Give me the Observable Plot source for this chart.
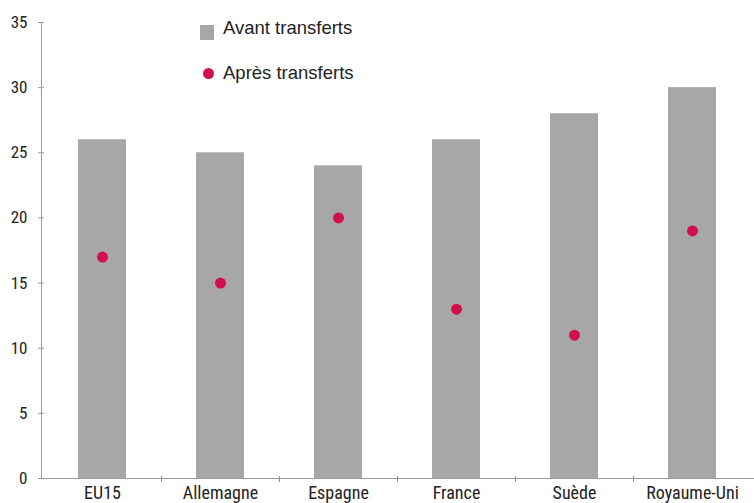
<!DOCTYPE html>
<html><head><meta charset="utf-8">
<script src="https://cdn.jsdelivr.net/npm/d3@7"></script>
<script src="https://cdn.jsdelivr.net/npm/@observablehq/plot@0.6"></script>
<style>
body{margin:0;background:#fff;}
#wrap{position:relative;width:754px;height:503px;}
.leg{position:absolute;font-family:"Liberation Sans",Arial,sans-serif;font-size:18.5px;color:#222;white-space:nowrap;}
</style></head>
<body><div id="wrap"></div>
<script>
const countries = ["EU15","Allemagne","Espagne","France","Suède","Royaume-Uni"];
const avant = [26,25,24,26,28,30];
const apres = [17,15,20,13,11,19];
const yTicks = [0,5,10,15,20,25,30,35];
const legendLabels = ["Avant transferts","Après transferts"];

const data = countries.map((c,i)=>({country:c, avant:avant[i], apres:apres[i]}));
const axisColor = "#9a9a9a";

const plot = Plot.plot({
  width:754, height:503,
  marginLeft:41, marginRight:0, marginTop:22, marginBottom:25,
  style:{fontFamily:'"Liberation Sans Narrow","Roboto Condensed",Arial,sans-serif', fontSize:"17px", color:"#222", background:"#fff"},
  x:{domain:countries, paddingInner:0.59, paddingOuter:0.295, label:null},
  y:{domain:[0,35], label:null},
  marks:[
    Plot.barY(data,{x:"country", y:"avant", fill:"#a7a7aa"}),
    Plot.dot(data,{x:"country", y:"apres", r:5.5, fill:"#d0114b", stroke:"none"}),
    Plot.axisY({ticks:yTicks, tickSize:3, tickPadding:11, stroke:axisColor, label:null, fontSize:17}),
    Plot.axisY({ticks:yTicks, tickSize:-3, tickFormat:()=>"", stroke:axisColor, label:null}),
    Plot.axisX({tickSize:0, tickPadding:8, label:null, fontSize:18}),
    Plot.frame({anchor:"left", stroke:axisColor}),
    Plot.frame({anchor:"bottom", stroke:axisColor})
  ]
});
const wrap = document.getElementById("wrap");
wrap.appendChild(plot);

// band-boundary ticks on the x axis, placed with the plot's own scales
const xs = plot.scale("x"), ys = plot.scale("y");
const y0 = ys.apply(0);
const bw = xs.bandwidth || 0;
const svgNS = "http://www.w3.org/2000/svg";
countries.forEach((c,i)=>{
  if(i===0) return;
  const px = Math.round((xs.apply(countries[i-1]) + xs.apply(c))/2 + bw/2) + 0.5;
  const ln = document.createElementNS(svgNS,"line");
  ln.setAttribute("x1",px); ln.setAttribute("x2",px);
  ln.setAttribute("y1",y0-2); ln.setAttribute("y2",y0+4);
  ln.setAttribute("style","stroke:#8f8f8f;stroke-width:1");
  plot.appendChild(ln);
});

// legend
const sq = document.createElement("div");
sq.style.cssText="position:absolute;left:200px;top:25px;width:14px;height:15px;background:#a7a7aa;";
wrap.appendChild(sq);
const l1 = document.createElement("div"); l1.className="leg";
l1.style.left="223px"; l1.style.top="17px"; l1.textContent=legendLabels[0];
wrap.appendChild(l1);
const dt = document.createElement("div");
dt.style.cssText="position:absolute;left:203px;top:68px;width:11px;height:11px;border-radius:50%;background:#d0114b;";
wrap.appendChild(dt);
const l2 = document.createElement("div"); l2.className="leg";
l2.style.left="223px"; l2.style.top="62px"; l2.textContent=legendLabels[1];
wrap.appendChild(l2);
</script></body></html>
